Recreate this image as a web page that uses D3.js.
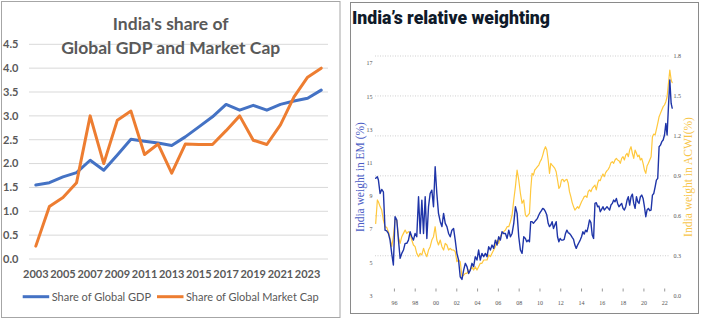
<!DOCTYPE html>
<meta charset="utf-8">
<style>
body { margin: 0; background: #fff; }
svg { display: block; }
.left text { font-family: Lato, "Open Sans", sans-serif; fill: #595959; }
.right .tick-label { font-family: "Liberation Serif", "DejaVu Serif", serif; font-size: 6px; fill: #555; }
.line { fill: none; stroke-linejoin: round; stroke-linecap: round; }
</style>
<body>
<script src="https://d3js.org/d3.v7.min.js"></script>
<script>

// ---- left chart: India's share of global GDP and market cap (%)
var years = [2003, 2004, 2005, 2006, 2007, 2008, 2009, 2010, 2011, 2012, 2013,
             2014, 2015, 2016, 2017, 2018, 2019, 2020, 2021, 2022, 2023, 2024];
var gdpShare = [1.55, 1.60, 1.72, 1.81, 2.07, 1.86, 2.18, 2.51, 2.47, 2.43, 2.38,
                2.56, 2.77, 2.98, 3.24, 3.12, 3.22, 3.12, 3.24, 3.31, 3.37, 3.54];
var mcapShare = [0.27, 1.10, 1.29, 1.60, 3.00, 2.00, 2.91, 3.10, 2.19, 2.41, 1.80,
                 2.41, 2.40, 2.40, 2.69, 3.00, 2.49, 2.40, 2.81, 3.40, 3.81, 4.00];
var shareTicks = [0, 0.5, 1, 1.5, 2, 2.5, 3, 3.5, 4, 4.5];

// ---- right chart: India weight in MSCI EM (left axis) and ACWI (right axis)
var weightDates = [
  1994.20, 1994.36, 1994.46, 1994.62, 1994.78, 1994.94, 1995.10, 1995.26, 1995.42, 1995.58,
  1995.74, 1995.90, 1996.06, 1996.23, 1996.39, 1996.55, 1996.71, 1996.87, 1997.03, 1997.19,
  1997.35, 1997.51, 1997.67, 1997.83, 1997.99, 1998.15, 1998.32, 1998.48, 1998.64, 1998.80,
  1998.96, 1999.12, 1999.28, 1999.44, 1999.60, 1999.76, 1999.92, 2000.08, 2000.24, 2000.41,
  2000.57, 2000.73, 2000.89, 2001.05, 2001.21, 2001.37, 2001.53, 2001.69, 2001.85, 2002.01,
  2002.17, 2002.33, 2002.50, 2002.66, 2002.82, 2002.98, 2003.14, 2003.30, 2003.46, 2003.62,
  2003.78, 2003.94, 2004.10, 2004.26, 2004.42, 2004.59, 2004.75, 2004.91, 2005.07, 2005.23,
  2005.39, 2005.55, 2005.71, 2005.87, 2006.03, 2006.19, 2006.35, 2006.51, 2006.68, 2006.84,
  2007.00, 2007.16, 2007.32, 2007.48, 2007.64, 2007.80, 2007.96, 2008.12, 2008.28, 2008.44,
  2008.60,
  2008.73, 2008.86, 2008.99, 2009.11, 2009.24, 2009.37, 2009.50, 2009.63, 2009.76, 2009.89,
  2010.01, 2010.14, 2010.27, 2010.40, 2010.53, 2010.66, 2010.79, 2010.92, 2011.04, 2011.17,
  2011.30, 2011.43, 2011.56, 2011.69, 2011.82, 2011.94, 2012.07, 2012.20, 2012.33, 2012.46,
  2012.59, 2012.72, 2012.84, 2012.97, 2013.10, 2013.23, 2013.36, 2013.49, 2013.62, 2013.74,
  2013.87, 2014.00, 2014.13, 2014.26, 2014.39, 2014.52, 2014.64, 2014.77, 2014.90, 2015.03,
  2015.16, 2015.29, 2015.42, 2015.55, 2015.67, 2015.80, 2015.93, 2016.06, 2016.19, 2016.32,
  2016.45, 2016.57, 2016.70, 2016.83, 2016.96, 2017.09, 2017.22, 2017.35, 2017.47, 2017.60,
  2017.73, 2017.86, 2017.99, 2018.12, 2018.25, 2018.38, 2018.50, 2018.63, 2018.76, 2018.89,
  2019.02, 2019.15, 2019.28, 2019.41, 2019.53, 2019.66, 2019.79, 2019.92, 2020.05, 2020.18,
  2020.30, 2020.43, 2020.56, 2020.69, 2020.82, 2020.95, 2021.08, 2021.20, 2021.33, 2021.46,
  2021.59, 2021.72, 2021.85, 2021.98, 2022.11, 2022.23, 2022.36, 2022.49, 2022.62, 2022.72
];
var emWeight = [
  10.07, 10.17, 9.97, 9.16, 9.40, 9.26, 6.95, 6.91, 6.75, 6.35,
  5.55, 4.85, 7.76, 7.56, 6.35, 5.25, 5.55, 5.75, 6.15, 6.15,
  6.35, 6.85, 6.55, 6.35, 6.75, 6.55, 8.96, 6.75, 8.76, 6.75,
  8.96, 6.45, 8.36, 9.16, 9.36, 8.36, 10.77, 9.16, 7.96, 7.46,
  7.16, 7.96, 7.36, 7.16, 6.75, 6.55, 6.95, 7.05, 6.35, 5.55,
  5.15, 4.14, 3.98, 4.54, 4.95, 4.75, 4.34, 4.54, 4.95, 4.75,
  5.35, 5.15, 5.75, 5.15, 5.55, 5.35, 5.55, 5.35, 5.95, 5.75,
  6.05, 5.85, 6.35, 6.05, 6.55, 6.35, 6.85, 6.75, 6.75, 6.45,
  6.95, 6.55, 6.75, 7.36, 8.36, 7.96, 6.55, 5.75, 5.55, 6.55,
  6.45,
  6.25, 6.35, 6.25, 7.46, 7.46, 7.36, 7.46, 7.56, 7.66, 7.86,
  8.00, 8.12, 8.26, 8.20, 8.06, 7.86, 7.36, 7.16, 7.26, 7.46,
  7.05, 7.26, 7.46, 6.55, 6.25, 6.45, 6.35, 6.35, 6.39, 6.75,
  6.95, 6.79, 6.75, 6.65, 6.51, 6.39, 6.05, 5.85, 6.05, 6.19,
  6.35, 6.55, 6.85, 6.71, 6.95, 6.85, 7.16, 7.56, 7.40, 6.65,
  6.45, 8.56, 8.60, 8.36, 8.40, 8.06, 8.20, 8.36, 8.16, 8.26,
  8.36, 8.26, 8.16, 8.46, 8.56, 8.76, 8.66, 8.86, 8.56, 8.36,
  8.46, 8.56, 8.26, 8.16, 8.36, 8.76, 8.96, 8.46, 8.96, 9.12,
  8.56, 8.26, 8.96, 8.66, 8.56, 8.96, 9.06, 8.86, 8.36, 7.76,
  8.16, 8.26, 8.12, 8.16, 9.06, 9.16, 9.56, 9.96, 10.07, 11.97,
  12.07, 12.28, 12.38, 12.68, 13.38, 12.68, 14.38, 15.99, 14.58, 14.30
];
var acwiWeight = [
  0.543, 0.719, 0.706, 0.669, 0.643, 0.568, 0.518, 0.513, 0.481, 0.431,
  0.368, 0.443, 0.573, 0.568, 0.443, 0.393, 0.443, 0.468, 0.493, 0.468,
  0.481, 0.468, 0.418, 0.381, 0.368, 0.318, 0.293, 0.318, 0.306, 0.356,
  0.318, 0.293, 0.343, 0.368, 0.418, 0.443, 0.518, 0.418, 0.381, 0.418,
  0.368, 0.343, 0.393, 0.381, 0.343, 0.356, 0.343, 0.343, 0.331, 0.256,
  0.268, 0.256, 0.143, 0.155, 0.168, 0.168, 0.193, 0.193, 0.218, 0.193,
  0.218, 0.193, 0.218, 0.243, 0.243, 0.268, 0.268, 0.268, 0.306, 0.293,
  0.318, 0.343, 0.368, 0.418, 0.393, 0.443, 0.468, 0.481, 0.493, 0.518,
  0.518, 0.556, 0.606, 0.719, 0.819, 0.944, 0.869, 0.769, 0.694, 0.719,
  0.606,
  0.593, 0.606, 0.618, 0.794, 0.919, 0.906, 0.944, 0.956, 0.969, 0.981,
  1.006, 1.024, 1.056, 1.094, 1.119, 1.094, 1.019, 0.919, 0.994, 0.981,
  0.969, 0.956, 0.931, 0.869, 0.806, 0.819, 0.869, 0.874, 0.856, 0.869,
  0.874, 0.844, 0.781, 0.744, 0.699, 0.669, 0.643, 0.656, 0.669, 0.656,
  0.681, 0.706, 0.724, 0.744, 0.749, 0.739, 0.781, 0.794, 0.781, 0.806,
  0.819, 0.831, 0.794, 0.844, 0.869, 0.864, 0.894, 0.914, 0.894, 0.924,
  0.939, 0.949, 0.969, 0.999, 1.006, 0.994, 1.019, 1.031, 1.019, 1.014,
  0.994, 1.031, 1.044, 1.019, 1.056, 1.069, 1.044, 1.094, 1.119, 1.069,
  1.031, 1.094, 1.069, 1.044, 1.056, 1.019, 1.031, 0.994, 0.944, 0.919,
  0.974, 0.994, 1.019, 1.044, 1.194, 1.214, 1.207, 1.249, 1.294, 1.344,
  1.369, 1.394, 1.419, 1.432, 1.457, 1.494, 1.595, 1.695, 1.620, 1.600
];
var emTicks = [3, 5, 7, 9, 11, 13, 15, 17];
var acwiTicks = [0, 0.3, 0.6, 0.9, 1.2, 1.5, 1.8];
var yearTicks = [1996, 1998, 2000, 2002, 2004, 2006, 2008, 2010, 2012, 2014, 2016, 2018, 2020, 2022];

var svg = d3.select("body").append("svg")
    .attr("width", 705)
    .attr("height", 321);

// ================= left panel =================
var left = svg.append("g").attr("class", "left");

left.append("rect")
    .attr("x", 1.5).attr("y", 1.5)
    .attr("width", 338.5).attr("height", 316)
    .attr("fill", "#fff").attr("stroke", "#a6a6a6");

var x = d3.scaleBand().domain(years).range([29, 328]);
var y = d3.scaleLinear().domain([0, 4.5]).range([259, 44.3]);
var cx = function(d) { return x(d) + x.bandwidth() / 2; };

// gridlines
left.selectAll(".grid").data(shareTicks).enter().append("line")
    .attr("x1", 29).attr("x2", 328)
    .attr("y1", function(d) { return y(d); })
    .attr("y2", function(d) { return y(d); })
    .attr("stroke", "#d9d9d9");

// y labels
left.selectAll(".ylab").data(shareTicks).enter().append("text")
    .attr("x", 3)
    .attr("y", function(d) { return y(d); })
    .attr("dy", "0.35em")
    .style("font-size", "11px").style("font-weight", "bold")
    .text(d3.format(".1f"));

// x labels, every other year
left.selectAll(".xlab").data(years.filter(function(d, i) { return i % 2 === 0; }))
  .enter().append("text")
    .attr("x", cx)
    .attr("y", 278.3)
    .attr("text-anchor", "middle")
    .style("font-size", "11px").style("font-weight", "bold")
    .text(function(d) { return d; });

var shareLine = d3.line()
    .x(function(d, i) { return cx(years[i]); })
    .y(function(d) { return y(d); });

left.append("path").datum(gdpShare)
    .attr("class", "line")
    .attr("stroke", "#4472c4").attr("stroke-width", 3)
    .attr("d", shareLine);
left.append("path").datum(mcapShare)
    .attr("class", "line")
    .attr("stroke", "#ed7d31").attr("stroke-width", 3)
    .attr("d", shareLine);

// title
left.append("text")
    .attr("x", 170.7).attr("y", 30)
    .attr("text-anchor", "middle")
    .style("font-size", "17.5px").style("font-weight", "bold")
    .text("India's share of");
left.append("text")
    .attr("x", 170.7).attr("y", 53.5)
    .attr("text-anchor", "middle")
    .style("font-size", "17.5px").style("font-weight", "bold")
    .text("Global GDP and Market Cap");

// legend
var legend = [
  {name: "Share of Global GDP", color: "#4472c4", x0: 22.7},
  {name: "Share of Global Market Cap", color: "#ed7d31", x0: 157}
];
legend.forEach(function(l) {
  left.append("line")
      .attr("x1", l.x0).attr("x2", l.x0 + 26.5)
      .attr("y1", 296.7).attr("y2", 296.7)
      .attr("stroke", l.color).attr("stroke-width", 3);
  left.append("text")
      .attr("x", l.x0 + 29).attr("y", 300.7)
      .style("font-size", "11px")
      .text(l.name);
});

// ================= right panel =================
var right = svg.append("g").attr("class", "right");

right.append("rect")
    .attr("x", 350.5).attr("y", 2.5)
    .attr("width", 348).attr("height", 311)
    .attr("fill", "#fff").attr("stroke", "#8a8a8a");

right.append("text")
    .attr("x", 352).attr("y", 23.5)
    .attr("textLength", 198).attr("lengthAdjust", "spacingAndGlyphs")
    .style("font-family", "Roboto, sans-serif")
    .style("font-size", "19px").style("font-weight", "900")
    .style("fill", "#0f1a2a")
    .text("India\u2019s relative weighting");

var xr = d3.scaleLinear().domain([1994.2, 2022.73]).range([375.7, 672.3]);
var yEm = d3.scaleLinear().domain([3, 17]).range([295.7, 63.3]);
var yAcwi = d3.scaleLinear().domain([0, 1.8]).range([295.7, 56]);

// dotted gridlines on the ACWI scale
right.selectAll(".grid").data(acwiTicks.slice(1)).enter().append("line")
    .attr("x1", 375).attr("x2", 670)
    .attr("y1", function(d) { return yAcwi(d); })
    .attr("y2", function(d) { return yAcwi(d); })
    .attr("stroke", "#cfcfcf")
    .attr("stroke-dasharray", "1,1.5");

right.selectAll(".emlab").data(emTicks).enter().append("text")
    .attr("class", "tick-label")
    .attr("x", 372.5)
    .attr("y", function(d) { return yEm(d); })
    .attr("dy", "0.35em")
    .attr("text-anchor", "end")
    .text(function(d) { return d; });

right.selectAll(".acwilab").data(acwiTicks).enter().append("text")
    .attr("class", "tick-label")
    .attr("x", 673.5)
    .attr("y", function(d) { return yAcwi(d); })
    .attr("dy", "0.35em")
    .text(d3.format(".1f"));

right.selectAll(".xtick").data(yearTicks).enter().append("line")
    .attr("x1", function(d) { return xr(d); })
    .attr("x2", function(d) { return xr(d); })
    .attr("y1", 288.5).attr("y2", 291.5)
    .attr("stroke", "#999");

right.selectAll(".xlab").data(yearTicks).enter().append("text")
    .attr("class", "tick-label")
    .attr("x", function(d) { return xr(d); })
    .attr("y", 304.7)
    .attr("text-anchor", "middle")
    .text(function(d) { return String(d).slice(2); });

// axis titles
right.append("text")
    .attr("transform", "translate(360,177) rotate(-90)")
    .attr("text-anchor", "middle").attr("dy", "0.35em")
    .style("font-family", "'Liberation Serif', serif").style("font-size", "11.5px")
    .style("fill", "#4b5cc4")
    .text("India weight in EM (%)");
right.append("text")
    .attr("transform", "translate(688,177) rotate(-90)")
    .attr("text-anchor", "middle").attr("dy", "0.35em")
    .style("font-family", "'Liberation Serif', serif").style("font-size", "11.5px")
    .style("fill", "#f7c548")
    .text("India weight in ACWI(%)");

var weights = weightDates.map(function(t, i) {
  return {t: t, em: emWeight[i], acwi: acwiWeight[i]};
});

right.append("path").datum(weights)
    .attr("class", "line")
    .attr("stroke", "#ffc83d").attr("stroke-width", 1.2)
    .attr("d", d3.line()
        .x(function(d) { return xr(d.t); })
        .y(function(d) { return yAcwi(d.acwi); }));

right.append("path").datum(weights)
    .attr("class", "line")
    .attr("stroke", "#1f35a8").attr("stroke-width", 1.4)
    .attr("d", d3.line()
        .x(function(d) { return xr(d.t); })
        .y(function(d) { return yEm(d.em); }));

</script>
</body>
